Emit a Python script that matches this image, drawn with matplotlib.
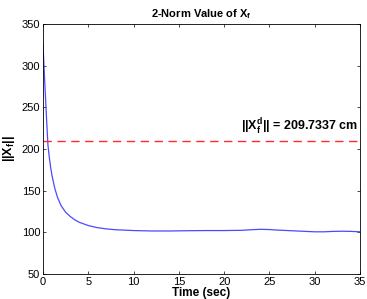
import matplotlib
matplotlib.use('Agg')
import matplotlib.pyplot as plt

plt.rcParams.update({
    'font.family': 'Liberation Sans',
    'font.size': 8,
    'axes.linewidth': 0.6,
    'xtick.direction': 'in',
    'ytick.direction': 'in',
    'xtick.top': True,
    'ytick.right': True,
    'xtick.major.size': 2.5,
    'ytick.major.size': 2.5,
    'xtick.major.width': 0.5,
    'ytick.major.width': 0.5,
    'xtick.major.pad': 2,
    'ytick.major.pad': 2,
})

# Data
time = [0, 0.1, 0.2, 0.3, 0.4, 0.55, 0.7, 0.85, 1.0, 1.3, 1.6, 2.0, 2.5, 3.0,
        3.5, 4.0, 5.0, 6.0, 7.0, 8.0, 9.0, 10, 12, 14, 16, 18, 20, 22, 23,
        24, 25, 26, 27, 28, 29, 30, 31, 32, 33, 34, 35]
norm_xf = [327, 303, 280, 258, 236, 205, 190, 178, 168, 153, 142, 132, 124, 119,
           115, 112, 108, 105.5, 104, 103, 102.5, 102, 101.5, 101.5, 101.8, 102,
           102, 102.3, 103, 103.5, 103.2, 102.5, 102, 101.5, 101, 100.5, 100.5,
           101, 101.2, 101, 100.5]
desired = 209.7337

fig = plt.figure(figsize=(3.67, 2.99), dpi=100)
ax = fig.add_axes([0.117, 0.084, 0.864, 0.836])

ax.plot(time, norm_xf, color='#4a4aff', linewidth=0.9)
ax.axhline(desired, color='#ff2a2a', linestyle=(0, (6, 4)), linewidth=1.0)
ax.text(34.8, desired + 4, r'||X$\mathregular{_f^d}$|| = %.4f cm' % desired,
        ha='right', va='bottom', fontsize=9, fontweight='bold')

ax.set_xlim(0, 35)
ax.set_ylim(50, 350)
ax.set_xticks(range(0, 36, 5))
ax.set_yticks(range(50, 351, 50))
ax.set_title(r'2-Norm Value of X$\mathregular{_f}$', fontsize=8, fontweight='bold', pad=5)
ax.set_xlabel('Time (sec)', fontsize=8.5, fontweight='bold', labelpad=0)
ax.set_ylabel(r'||X$\mathregular{_f}$||', fontsize=9, fontweight='bold', labelpad=3)

fig.savefig('out.png', dpi=100)
